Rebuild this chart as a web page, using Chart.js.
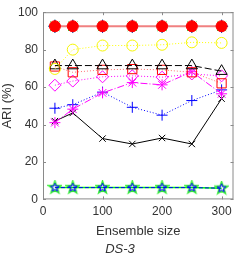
<!DOCTYPE html>
<html lang="en">
<head>
  <meta charset="UTF-8">
  <title>DS-3</title>
  <style>
    body { margin: 0; background: #fff; }
    #wrap { width: 241px; height: 257px; }
  </style>
  <script src="https://cdn.jsdelivr.net/npm/chart.js@4.4.4/dist/chart.umd.js"></script>
</head>
<body>
  <div id="wrap"><canvas id="chart_1"></canvas></div>
<script>
  // ensemble sizes on the x axis
  const sizes = [20, 50, 100, 150, 200, 250, 300];

  const topRed     = [92.5, 92.5, 92.5, 92.5, 92.5, 92.5, 92.5];
  const yellowCirc = [69.7, 80.0, 82.2, 82.2, 82.6, 83.9, 83.6];
  const blackTri   = [71.5, 71.5, 71.5, 71.5, 71.5, 71.5, 68.5];
  const redSquare  = [71.0, 67.9, 69.2, 69.6, 69.2, 67.9, 62.0];
  const magDiamond = [61.0, 63.2, 65.5, 66.0, 65.3, 67.0, 66.0];
  const magStar    = [41.0, 48.2, 56.9, 62.4, 61.2, 68.2, 56.4];
  const bluePlus   = [48.7, 50.6, 57.3, 49.2, 45.0, 52.8, 58.5];
  const blackX     = [41.8, 46.2, 32.5, 29.6, 32.8, 29.6, 53.8];
  const greenPent  = [6.3, 6.3, 6.3, 6.3, 6.3, 6.3, 6.0];
  const bluePent   = [6.3, 6.3, 6.3, 6.3, 6.3, 6.3, 6.0];

  const xTicks = [0, 100, 200, 300];
  const yTicks = [0, 20, 40, 60, 80, 100];

  const textColor = '#333333';
  const axisColor = '#8a8a8a';

  function pentagram(color, size, lw) {
    const c = document.createElement('canvas');
    c.width = size; c.height = size;
    const g = c.getContext('2d');
    const cx = size / 2, cy = size / 2, R = size / 2 - 1, r = R * 0.4;
    g.beginPath();
    for (let i = 0; i < 10; i++) {
      const a = -Math.PI / 2 + i * Math.PI / 5;
      const rad = i % 2 === 0 ? R : r;
      g.lineTo(cx + rad * Math.cos(a), cy + rad * Math.sin(a));
    }
    g.closePath();
    g.strokeStyle = color;
    g.lineWidth = lw;
    g.stroke();
    return c;
  }

  function toXY(vals) {
    return vals.map((v, i) => ({ x: sizes[i], y: v }));
  }

  function series(vals, opts) {
    return Object.assign({
      data: toXY(vals),
      borderWidth: 1,
      pointBorderWidth: 1,
      pointBackgroundColor: 'rgba(0,0,0,0)',
      pointRadius: 5,
      fill: false,
      tension: 0
    }, opts);
  }

  const frame = {
    id: 'frame',
    afterDraw(chart) {
      const { ctx, chartArea: a, scales } = chart;
      ctx.save();
      ctx.strokeStyle = axisColor;
      ctx.lineWidth = 1;
      ctx.strokeRect(a.left + 0.5, a.top + 0.5, a.right - a.left - 1, a.bottom - a.top - 1);
      const t = 3;
      ctx.beginPath();
      xTicks.forEach(v => {
        const px = Math.round(scales.x.getPixelForValue(v)) + 0.5;
        ctx.moveTo(px, a.bottom); ctx.lineTo(px, a.bottom - t);
        ctx.moveTo(px, a.top); ctx.lineTo(px, a.top + t);
      });
      yTicks.forEach(v => {
        const py = Math.round(scales.y.getPixelForValue(v)) + 0.5;
        ctx.moveTo(a.left, py); ctx.lineTo(a.left + t, py);
        ctx.moveTo(a.right, py); ctx.lineTo(a.right - t, py);
      });
      ctx.stroke();
      ctx.restore();
    }
  };

  new Chart('chart_1', {
    type: 'line',
    data: {
      datasets: [
        series(topRed, { order: 0, borderColor: '#f08080', borderWidth: 2, pointStyle: 'circle',
          pointBorderColor: '#ff0000', pointBackgroundColor: '#ff0000', pointRadius: 5.5 }),
        series(topRed, { order: 1, borderColor: 'rgba(0,0,0,0)', pointStyle: 'cross',
          pointBorderColor: '#0000ff', pointRadius: 6.5 }),
        series(topRed, { order: 2, borderColor: 'rgba(0,0,0,0)', pointStyle: 'star',
          pointBorderColor: '#00cc00', pointRadius: 6.5 }),
        series(yellowCirc, { order: 3, borderColor: '#ffff00', borderDash: [1, 2], pointStyle: 'circle',
          pointBorderColor: '#f5f500', pointRadius: 5.5 }),
        series(blackTri, { order: 4, borderColor: '#000000', borderDash: [7, 3], pointStyle: 'triangle',
          pointBorderColor: '#000000', pointRadius: 6.5 }),
        series(redSquare, { order: 5, borderColor: '#ff7070', borderDash: [1, 2], pointStyle: 'rect',
          pointBorderColor: '#ff0000', pointRadius: 6.5 }),
        series(magDiamond, { order: 6, borderColor: '#ff00ff', borderDash: [1, 2], pointStyle: 'rectRot',
          pointBorderColor: '#ff00ff', pointRadius: 6 }),
        series(magStar, { order: 7, borderColor: '#ff00ff', borderDash: [7, 2, 1, 2], pointStyle: 'star',
          pointBorderColor: '#ff00ff', pointRadius: 5.5 }),
        series(bluePlus, { order: 8, borderColor: '#0000ff', borderDash: [1, 2], pointStyle: 'cross',
          pointBorderColor: '#0000ff', pointRadius: 5.5 }),
        series(blackX, { order: 9, borderColor: '#000000', pointStyle: 'crossRot',
          pointBorderColor: '#000000', pointRadius: 4.5 }),
        series(bluePent, { order: 10, borderColor: '#0000ff', borderDash: [4, 2],
          pointStyle: pentagram('#0000ff', 11, 1) }),
        series(greenPent, { order: 11, borderColor: '#00ff00', borderWidth: 1.5,
          pointStyle: pentagram('#33ee33', 15, 1.5) })
      ]
    },
    options: {
      responsive: true,
      maintainAspectRatio: false,
      animation: false,
      layout: { padding: { top: 5, right: 1, left: 0, bottom: 0 } },
      plugins: {
        legend: { display: false },
        tooltip: { enabled: false },
        title: {
          display: true,
          position: 'bottom',
          text: 'DS-3',
          color: textColor,
          font: { family: 'Liberation Sans', size: 13, style: 'italic', weight: 'normal' },
          padding: { top: 2, bottom: 0 }
        }
      },
      scales: {
        x: {
          type: 'linear',
          min: 0,
          max: 320,
          afterBuildTicks: s => { s.ticks = xTicks.map(v => ({ value: v })); },
          afterFit: s => { s.height = 40; },
          grid: { display: false, drawTicks: false },
          border: { display: false },
          ticks: { color: textColor, font: { family: 'Liberation Sans', size: 12 }, padding: 5, maxRotation: 0 },
          title: {
            display: true,
            text: 'Ensemble size',
            color: textColor,
            font: { family: 'Liberation Sans', size: 13 },
            padding: { top: 2, bottom: 0 }
          }
        },
        y: {
          min: 0,
          max: 100,
          afterBuildTicks: s => { s.ticks = yTicks.map(v => ({ value: v })); },
          afterFit: s => { s.width = 43; },
          grid: { display: false, drawTicks: false },
          border: { display: false },
          ticks: { color: textColor, font: { family: 'Liberation Sans', size: 12 }, padding: 5 },
          title: {
            display: true,
            text: 'ARI (%)',
            color: textColor,
            font: { family: 'Liberation Sans', size: 13 },
            padding: { top: 0, bottom: 2 }
          }
        }
      }
    },
    plugins: [frame]
  });
</script>
</body>
</html>
